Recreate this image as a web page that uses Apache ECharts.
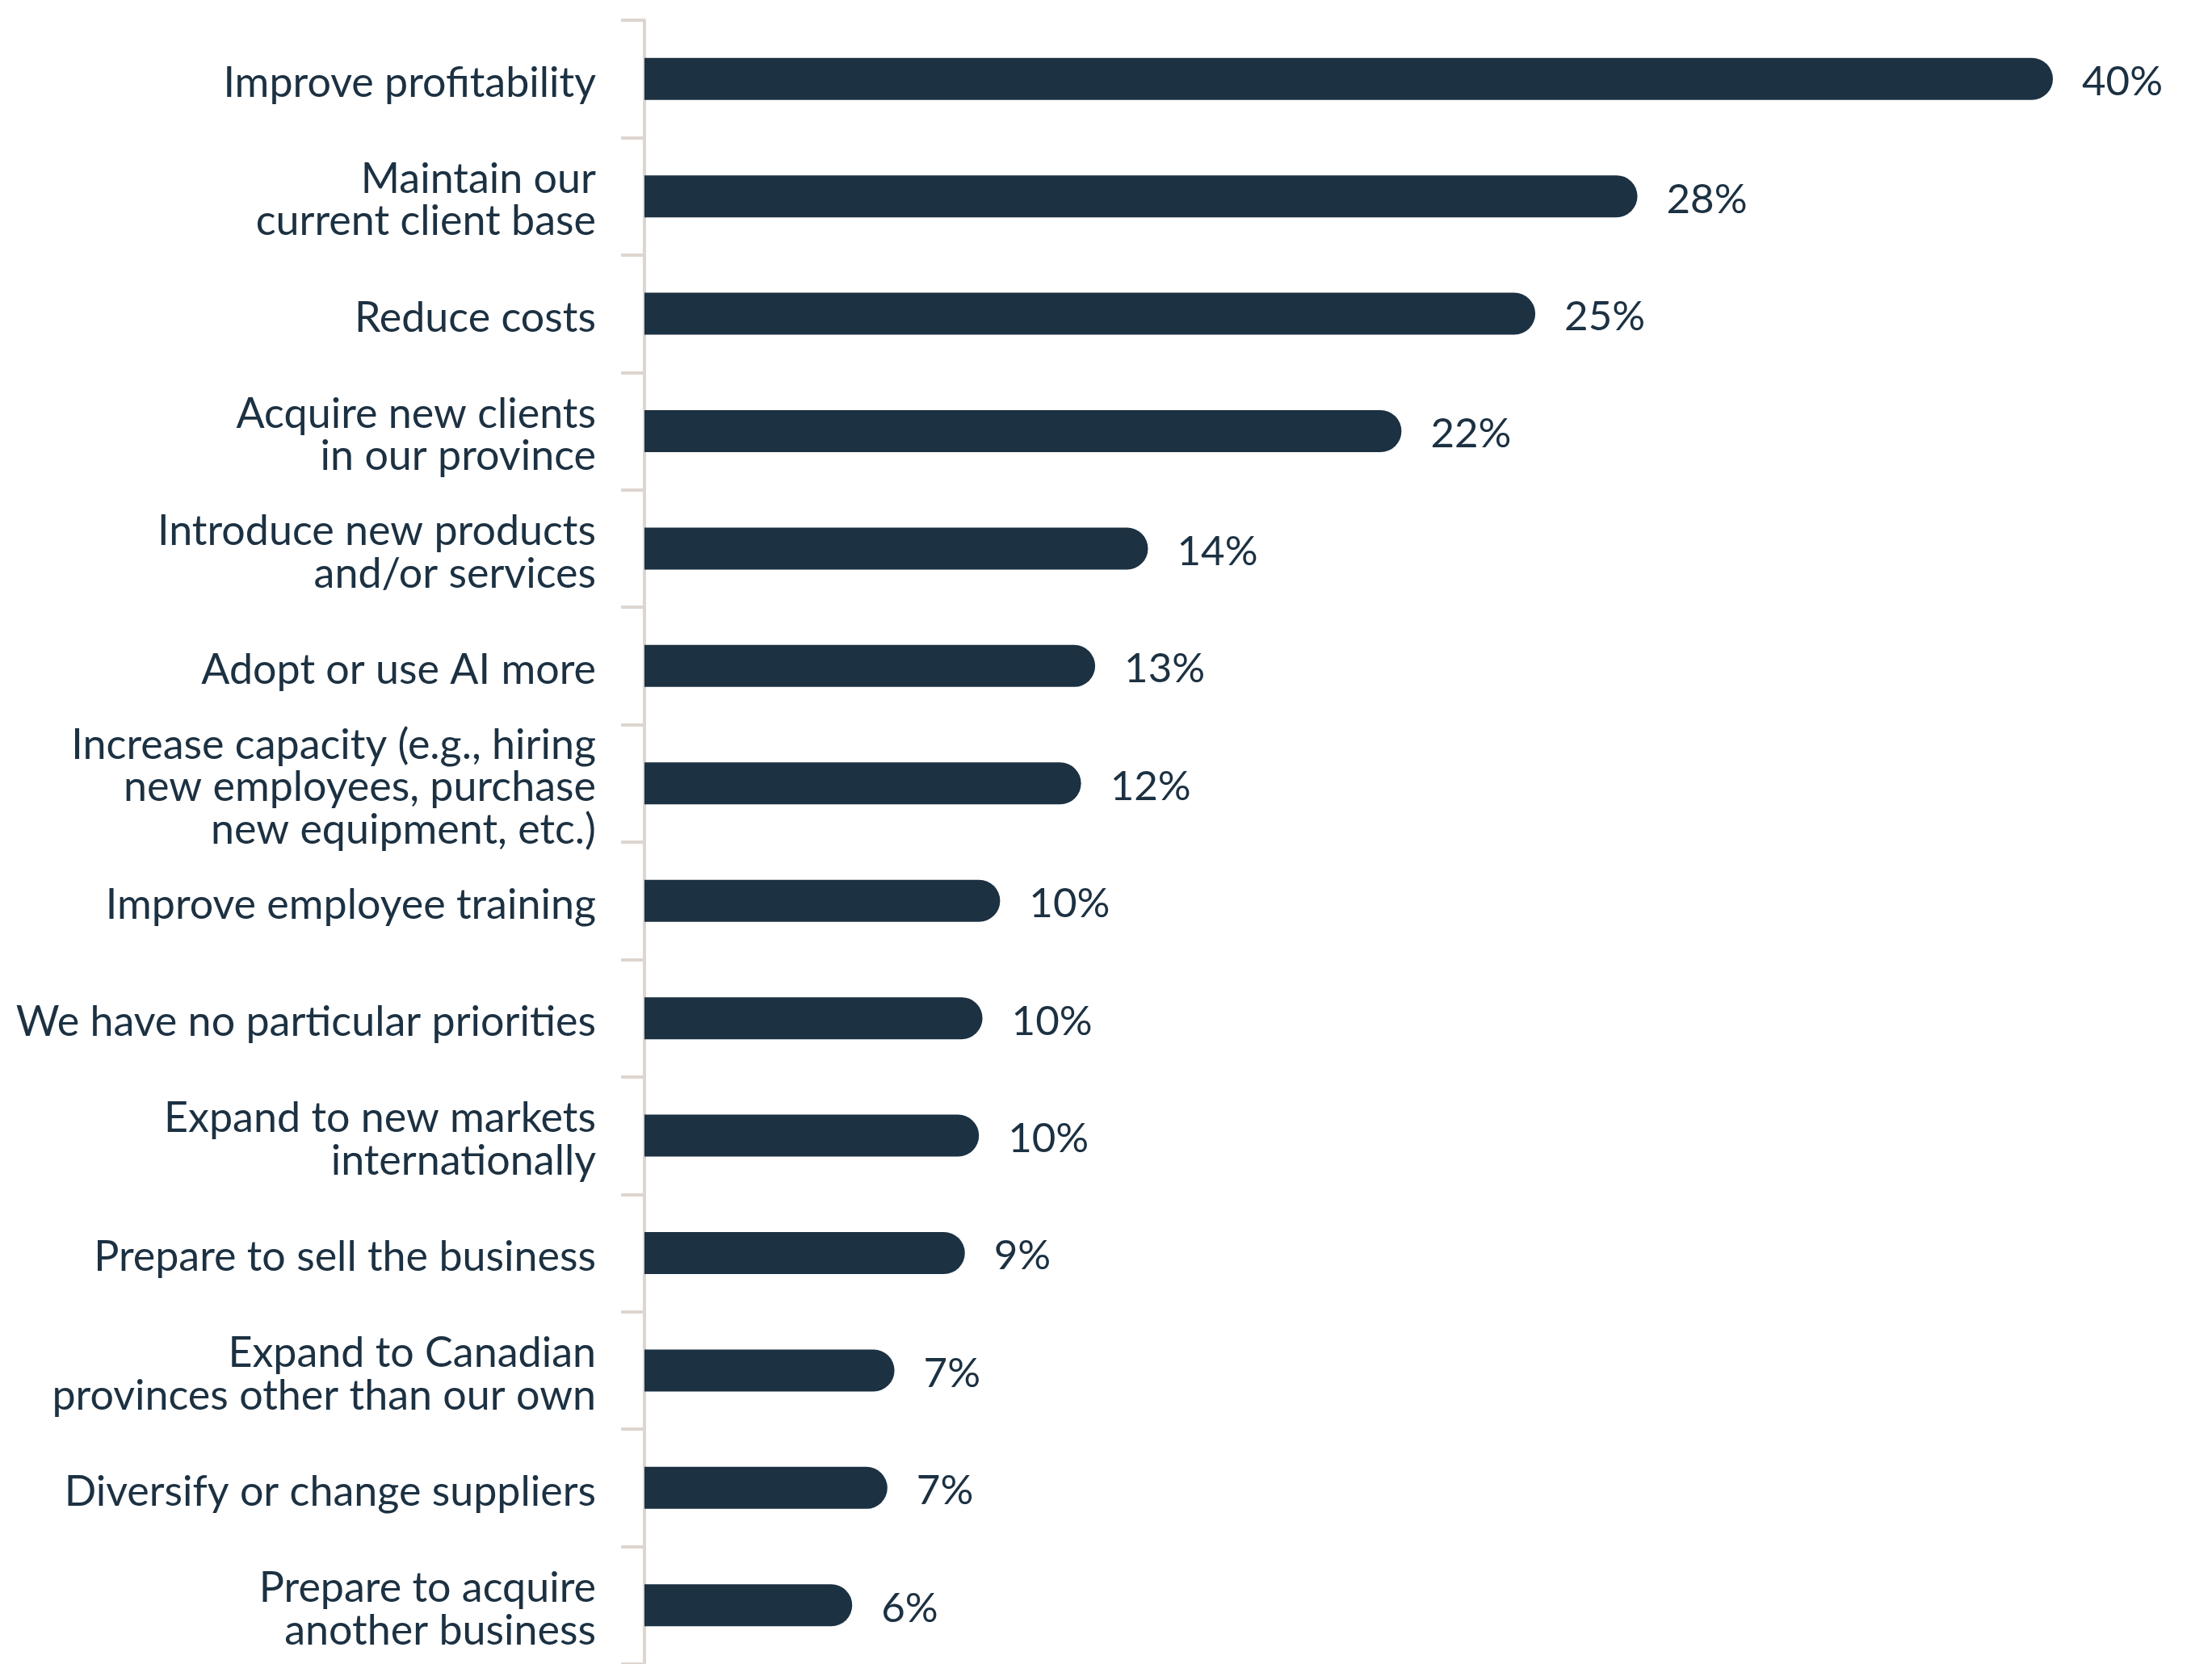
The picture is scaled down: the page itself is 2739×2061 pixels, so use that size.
<!DOCTYPE html>
<html>
<head>
<meta charset="utf-8">
<title>Business priorities</title>
<script src="https://cdn.jsdelivr.net/npm/echarts@6/dist/echarts.min.js"></script>
<style>
  html, body { margin: 0; padding: 0; background: #ffffff; }
  #chart { width: 2739px; height: 2061px; }
</style>
</head>
<body>
<div id="chart"></div>
<script>
// Priorities, listed top to bottom
const categories = [
  'Improve profitability',
  'Maintain our\ncurrent client base',
  'Reduce costs',
  'Acquire new clients\nin our province',
  'Introduce new products\nand/or services',
  'Adopt or use AI more',
  'Increase capacity (e.g., hiring\nnew employees, purchase\nnew equipment, etc.)',
  'Improve employee training',
  'We have no particular priorities',
  'Expand to new markets\ninternationally',
  'Prepare to sell the business',
  'Expand to Canadian\nprovinces other than our own',
  'Diversify or change suppliers',
  'Prepare to acquire\nanother business'
];

// Share of respondents (%), labels show the rounded value
const shares = [40, 28.2, 25.3, 21.5, 14.3, 12.8, 12.4, 10.1, 9.6, 9.5, 9.1, 7.1, 6.9, 5.9];

const navy = '#1c3142';
const axisBeige = '#ddd5cf';
const fontFamily = 'Lato, "Noto Sans", sans-serif';

const chart = echarts.init(document.getElementById('chart'), null, { renderer: 'canvas' });

// First line gets a slightly taller line box so each label block sits a touch lower
const categoryLabel = v => v.split('\n')
  .map((line, i) => (i === 0 ? '{f|' : '{t|') + line + '}')
  .join('\n');

chart.setOption({
  animation: false,
  backgroundColor: '#ffffff',
  grid: { left: 798, top: 25, width: 1744, height: 2048, containLabel: false },
  xAxis: {
    type: 'value',
    min: 0,
    max: 40,
    show: false
  },
  yAxis: {
    type: 'category',
    inverse: true,
    data: categories,
    axisLine: { show: true, lineStyle: { color: axisBeige, width: 4 } },
    axisTick: { show: true, length: 29, lineStyle: { color: axisBeige, width: 4 } },
    axisLabel: {
      margin: 60,
      color: navy,
      fontFamily: fontFamily,
      fontSize: 52,
      lineHeight: 53,
      align: 'right',
      formatter: categoryLabel,
      rich: {
        f: {
          color: navy, fontFamily: fontFamily, fontSize: 52,
          lineHeight: 63, verticalAlign: 'bottom'
        },
        t: {
          color: navy, fontFamily: fontFamily, fontSize: 52,
          lineHeight: 53
        }
      }
    }
  },
  series: [{
    type: 'bar',
    data: shares,
    barWidth: 52,
    itemStyle: { color: navy, borderRadius: [0, 26, 26, 0] },
    label: {
      show: true,
      position: 'right',
      distance: 36,
      offset: [0, 4],
      color: navy,
      fontFamily: fontFamily,
      fontSize: 51,
      formatter: p => Math.round(p.value) + '%'
    }
  }]
});
</script>
</body>
</html>
